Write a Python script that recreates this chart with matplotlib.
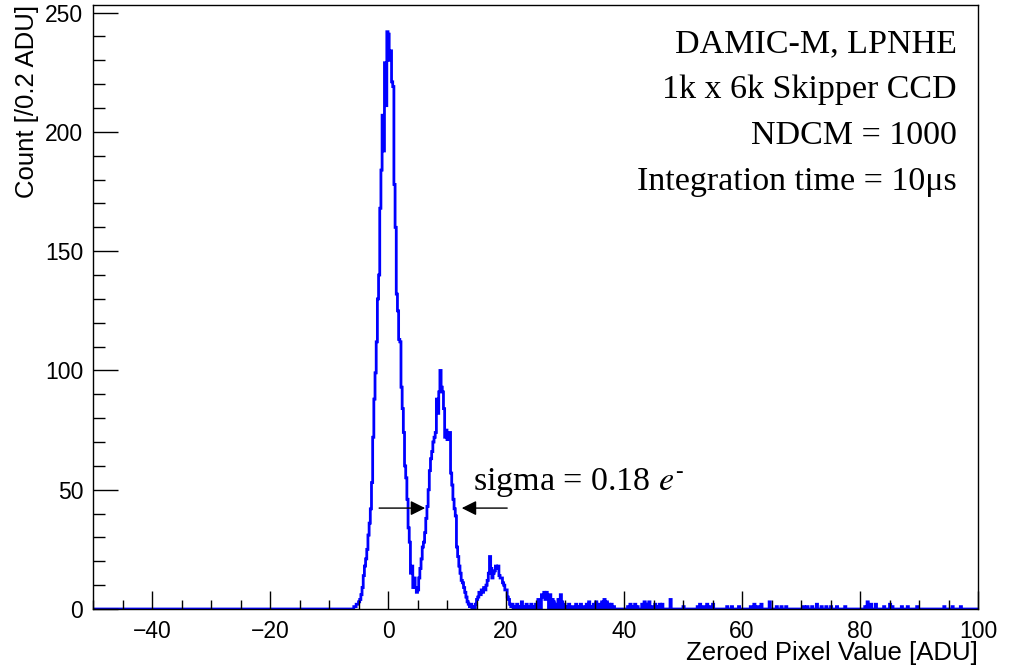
import numpy as np
import matplotlib
matplotlib.use("Agg")
import matplotlib.pyplot as plt
from matplotlib.ticker import MultipleLocator

# histogram: 0.2 ADU bins from -50 to 100
bin_width = 0.2
x_min, x_max = -50.0, 100.0

# dense region, first bin starts at -6.0 ADU (5 bins per ADU per row)
peak_start = -6.0
peak_counts = [
    0, 1, 1, 2, 2,            # -6
    3, 4, 6, 9, 14,           # -5
    18, 21, 25, 31, 36,       # -4
    42, 53, 72, 88, 99,       # -3
    112, 130, 140, 168, 184,  # -2
    207, 192, 229, 211, 242,  # -1
    241, 230, 234, 221, 219,  # 0
    178, 160, 132, 125, 113,  # 1
    112, 93, 84, 74, 60,      # 2
    55, 46, 34, 28, 15,       # 3
    18, 9, 13, 9, 7,          # 4
    8, 13, 17, 21, 26,        # 5
    28, 32, 38, 43, 50,       # 6
    58, 63, 66, 70, 72,       # 7
    74, 88, 82, 91, 100,      # 8
    93, 91, 84, 72, 75,       # 9
    71, 72, 74, 57, 52,       # 10
    46, 42, 39, 26, 22,       # 11
    18, 15, 12, 11, 9,        # 12
    7, 5, 3, 2, 1,            # 13
    2, 0, 1, 0, 2,            # 14
    4, 5, 7, 6, 8,            # 15
    7, 9, 8, 10, 12,          # 16
    15, 22, 17, 13, 15,       # 17
    16, 18, 17, 18, 14,       # 18
    13, 13, 11, 10, 8,        # 19
    8, 5, 4, 2, 1,            # 20
    2, 0, 1, 0, 2,            # 21
]

# sparse tail: lower edge of bin [ADU] and count
tail_edges = [22.2, 22.6, 23.0, 23.4, 23.8, 24.2, 24.6, 25.0, 25.4, 25.6,
              26.0, 26.2, 26.4, 26.6, 26.8, 27.0, 27.4, 27.8, 28.0, 28.4,
              28.8, 29.2, 29.4, 29.8, 30.2, 30.6, 31.2, 31.8, 32.2, 32.6,
              33.0, 33.6, 34.0, 34.4, 34.8, 35.2, 35.6, 36.2, 36.6, 37.0,
              37.4, 37.8, 38.2, 40.6, 41.0, 41.4, 41.8, 42.2, 43.0, 43.4,
              43.8, 44.2, 44.6, 45.2, 45.6, 46.0, 46.4, 47.8, 50.0, 52.4,
              52.8, 53.4, 54.0, 54.4, 55.0, 57.4, 58.2, 59.4, 61.4, 62.0,
              62.6, 63.2, 64.6, 65.8, 66.6, 67.4, 70.4, 71.0, 71.8, 72.6,
              73.4, 74.2, 75.0, 76.0, 77.4, 80.8, 81.2, 81.8, 82.6, 84.0,
              85.0, 85.4, 87.0, 88.0, 89.6, 94.2, 95.6, 97.0]
tail_counts = [1, 3, 1, 2, 1, 2, 1, 2, 4, 3,
               6, 5, 7, 4, 7, 5, 6, 4, 3, 2,
               4, 6, 3, 2, 1, 2, 1, 2, 1, 2,
               1, 2, 3, 1, 2, 3, 2, 3, 4, 3,
               2, 2, 1, 1, 2, 1, 2, 1, 2, 3,
               2, 3, 1, 2, 1, 2, 2, 4, 1, 1,
               2, 1, 2, 1, 2, 1, 1, 1, 1, 2,
               1, 2, 3, 1, 1, 1, 1, 1, 1, 2,
               1, 1, 1, 1, 1, 1, 3, 2, 2, 1,
               2, 1, 1, 1, 1, 1, 1, 1]

info_lines = ["DAMIC-M, LPNHE", "1k x 6k Skipper CCD", "NDCM = 1000",
              "Integration time = 10\u03bcs"]

# build the full histogram
n_bins = int(round((x_max - x_min) / bin_width))
edges = x_min + bin_width * np.arange(n_bins + 1)
counts = np.zeros(n_bins)
i0 = int(round((peak_start - x_min) / bin_width))
counts[i0:i0 + len(peak_counts)] = peak_counts
for e, c in zip(tail_edges, tail_counts):
    counts[int(round((e - x_min) / bin_width))] = c

plt.rcParams['mathtext.fontset'] = 'stix'
sans = 'Liberation Sans'
serif = 'Liberation Serif'

fig = plt.figure(figsize=(10.11, 6.66), dpi=100)
ax = fig.add_axes([93 / 1011, 1 - 609 / 666, 885 / 1011, 604 / 666])

ax.stairs(counts, edges, color='#0000ff', linewidth=2.0)

ax.set_xlim(x_min, x_max)
ax.set_ylim(0, 253.2)
ax.xaxis.set_major_locator(MultipleLocator(20))
ax.xaxis.set_minor_locator(MultipleLocator(5))
ax.yaxis.set_major_locator(MultipleLocator(50))
ax.yaxis.set_minor_locator(MultipleLocator(10))
ax.tick_params(axis='x', which='major', direction='in', length=13, width=1, pad=8,
               labelsize=16.5, top=False)
ax.tick_params(axis='x', which='minor', direction='in', length=6.5, width=1, top=False)
ax.tick_params(axis='y', which='major', direction='in', length=18, width=1, pad=7,
               labelsize=16.5, right=False)
ax.tick_params(axis='y', which='minor', direction='in', length=8.6, width=1, right=False)
for lab in ax.get_xticklabels() + ax.get_yticklabels():
    lab.set_family(sans)
for sp in ax.spines.values():
    sp.set_linewidth(1.0)

fig.text(978 / 1011, 1 - 660 / 666, "Zeroed Pixel Value [ADU]", ha='right',
         va='baseline', fontsize=18.5, family=sans)
fig.text(27 / 1011, 1 - 5 / 666, "Count [/0.2 ADU]", rotation=90, ha='center',
         va='top', fontsize=18.5, family=sans)

for k, line in enumerate(info_lines):
    fig.text(957 / 1011, 1 - (52 + 46 * k) / 666, line, ha='right', va='baseline',
             fontsize=24.5, family=serif)

# sigma annotation with arrows
ax.text(14.4, 50, r"sigma = 0.18 $e^{\text{-}}$", ha='left', va='baseline',
        fontsize=24.5, family=serif)
arrow = dict(arrowstyle='-|>', color='black', lw=1.0, mutation_scale=22,
             shrinkA=0, shrinkB=0)
ax.annotate('', xy=(6.3, 42.3), xytext=(-1.5, 42.3), arrowprops=arrow)
ax.annotate('', xy=(12.5, 42.3), xytext=(20.2, 42.3), arrowprops=arrow)

fig.savefig("out.png", dpi=100, facecolor='white')
